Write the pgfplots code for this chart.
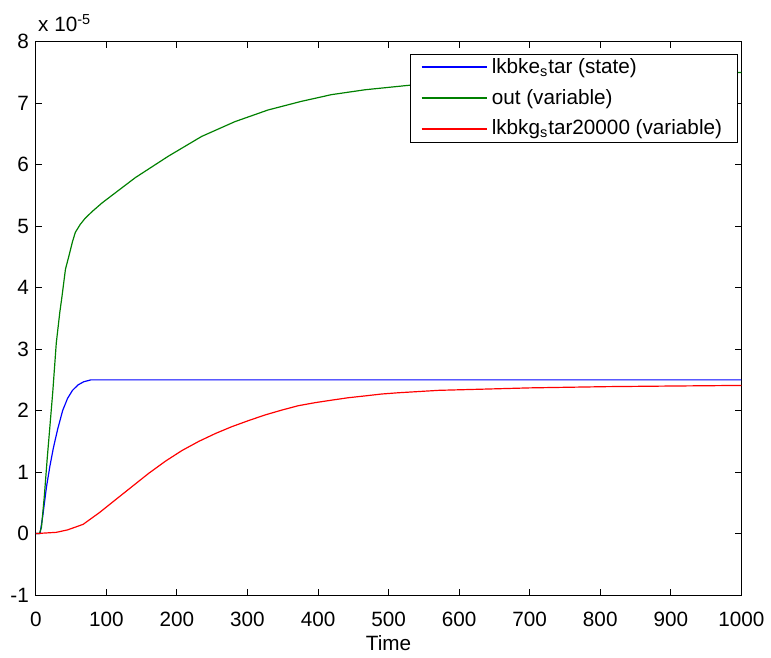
\documentclass[border=0pt]{standalone}
\usepackage{fontspec}
\setmainfont{Liberation Sans}
\usepackage{pgfplots}
\pgfplotsset{compat=1.18}
\definecolor{mblue}{RGB}{0,0,255}
\definecolor{mgreen}{RGB}{0,128,0}
\definecolor{mred}{RGB}{255,0,0}
\newcommand{\lf}{\fontsize{10.4}{12}\selectfont}

\begin{document}
\begin{tikzpicture}
\begin{axis}[
  name=ax,
  scale only axis,
  width=354.5pt, height=278pt,
  xmin=0, xmax=1000, ymin=-1, ymax=8,
  xtick={0,100,...,1000}, ytick={-1,0,...,8},
  tick align=inside,
  major tick length=3pt,
  axis line style={line width=0.5pt},
  every tick/.style={black, line width=0.5pt},
  font=\lf,
  tick label style={font=\lf},
  /pgf/number format/assume math mode=true,
  /pgf/number format/1000 sep={},
  xlabel={Time},
  xticklabel style={yshift=-5pt},
  xlabel style={yshift=2.5pt},
  legend cell align=left,
  legend style={
    at={(rel axis cs:1,1)}, xshift=-2pt, yshift=-6pt, anchor=north east,
    font=\lf, inner xsep=5.5pt, inner ysep=0pt, row sep=2.5pt,
  },
  legend image code/.code={%
    \draw[mark repeat=2,mark phase=2,#1] plot coordinates {(0pt,0pt) (16.5pt,0pt) (33pt,0pt)};},
]
\addplot[color=mblue, line width=0.6pt] coordinates {
(0,0)(6,0)(10,0.3)(15,0.75)(20,1.1)(25,1.4)(31,1.7)(38,2.0)(45,2.2)
(52,2.33)(60,2.42)(68,2.47)(78,2.5)(100,2.5)(1000,2.5)
};
\addlegendentry{lkbke\textsubscript{s}tar (state)}
\addplot[color=mgreen, line width=0.6pt] coordinates {
(0,0)(5,0)(8,0.1)(12,0.6)(16,1.2)(20,1.75)(24,2.3)(29,3.1)(34,3.6)(37,3.85)
(42,4.3)(47,4.52)(52,4.75)(56,4.9)(63,5.03)(70,5.13)(80,5.24)(94,5.38)
(141,5.79)(188,6.14)(235,6.46)(282,6.70)(329,6.89)(376,7.03)
(419,7.14)(467,7.22)(527,7.29)(600,7.35)(700,7.41)(800,7.45)(900,7.48)(1000,7.5)
};
\addlegendentry{out (variable)}
\addplot[color=mred, line width=0.6pt] coordinates {
(0,0)(29,0.02)(45,0.06)(67,0.15)(90,0.34)(114,0.56)(137,0.77)(160,0.98)
(184,1.18)(207,1.35)(231,1.50)(255,1.63)(278,1.74)(302,1.84)(325,1.93)
(349,2.01)(372,2.08)(396,2.13)(419,2.17)(443,2.21)(467,2.24)(490,2.27)
(513,2.29)(571,2.33)(636,2.35)(700,2.37)(808,2.39)(900,2.4)(1000,2.41)
};
\addlegendentry{lkbkg\textsubscript{s}tar20000 (variable)}
\end{axis}
\node[anchor=south west, inner sep=0pt, font=\lf] at ([xshift=1pt,yshift=5pt]ax.north west) {x 10\textsuperscript{-5}};
\path[use as bounding box] ([xshift=-18pt,yshift=-30.5pt]ax.south west) rectangle ([xshift=13pt,yshift=21pt]ax.north east);
\end{tikzpicture}
\end{document}
